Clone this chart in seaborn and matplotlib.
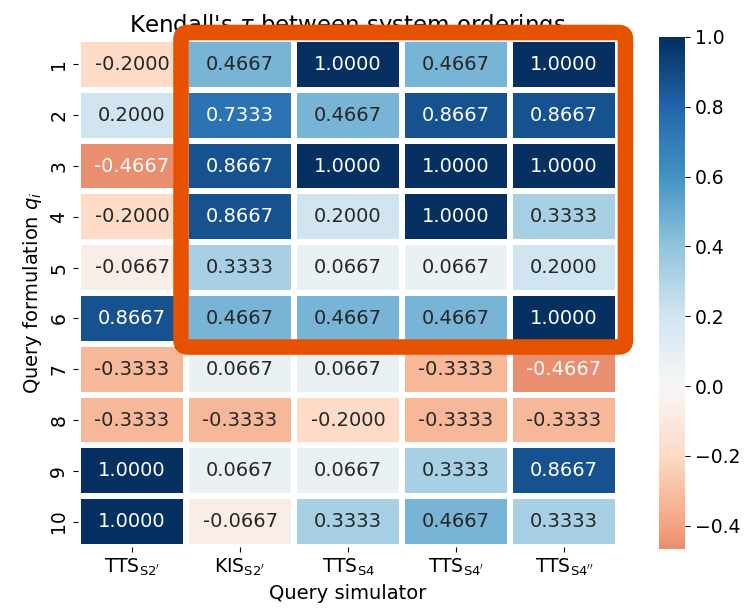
import numpy as np
import pandas as pd
import matplotlib
matplotlib.use("Agg")
import matplotlib.pyplot as plt
import seaborn as sns
from matplotlib.patches import FancyBboxPatch

simulators = [r"TTS$_{\mathrm{S2}'}$", r"KIS$_{\mathrm{S2}'}$", r"TTS$_{\mathrm{S4}}$",
              r"TTS$_{\mathrm{S4}'}$", r"TTS$_{\mathrm{S4}''}$"]
formulations = [str(i) for i in range(1, 11)]

col_tts_s2p = [-0.2000, 0.2000, -0.4667, -0.2000, -0.0667, 0.8667, -0.3333, -0.3333, 1.0000, 1.0000]
col_kis_s2p = [0.4667, 0.7333, 0.8667, 0.8667, 0.3333, 0.4667, 0.0667, -0.3333, 0.0667, -0.0667]
col_tts_s4 = [1.0000, 0.4667, 1.0000, 0.2000, 0.0667, 0.4667, 0.0667, -0.2000, 0.0667, 0.3333]
col_tts_s4p = [0.4667, 0.8667, 1.0000, 1.0000, 0.0667, 0.4667, -0.3333, -0.3333, 0.3333, 0.4667]
col_tts_s4pp = [1.0000, 0.8667, 1.0000, 0.3333, 0.2000, 1.0000, -0.4667, -0.3333, 0.8667, 0.3333]

df = pd.DataFrame(
    np.column_stack([col_tts_s2p, col_kis_s2p, col_tts_s4, col_tts_s4p, col_tts_s4pp]),
    index=formulations, columns=simulators)

fig = plt.figure(figsize=(7.55, 6.08), dpi=100)
W, H = 755, 608
ax = fig.add_axes([78 / W, 1 - 547 / H, 540 / W, 508 / H])
cax = fig.add_axes([659 / W, 1 - 549 / H, 26 / W, 512 / H])

sns.heatmap(df, ax=ax, cbar_ax=cax, cmap="RdBu", center=0, annot=True, fmt=".4f",
            linewidths=2.9, linecolor="white", annot_kws={"fontsize": 14})

ax.set_title(r"Kendall's $\tau$ between system orderings", fontsize=16.5, pad=2)
ax.set_xlabel("Query simulator", fontsize=14)
ax.set_ylabel(r"Query formulation $q_i$", fontsize=14)
ax.tick_params(axis="both", labelsize=13.5)
cax.tick_params(labelsize=13.5)

rect = FancyBboxPatch((0.954, -0.128), 5.069 - 0.954, 6.063 + 0.128,
                      boxstyle="round,pad=0,rounding_size=0.06", mutation_aspect=2.1,
                      linewidth=11.2, edgecolor="#E65100", facecolor="none",
                      joinstyle="round", clip_on=False, zorder=10)
ax.add_patch(rect)

fig.savefig("out.png", dpi=100)
